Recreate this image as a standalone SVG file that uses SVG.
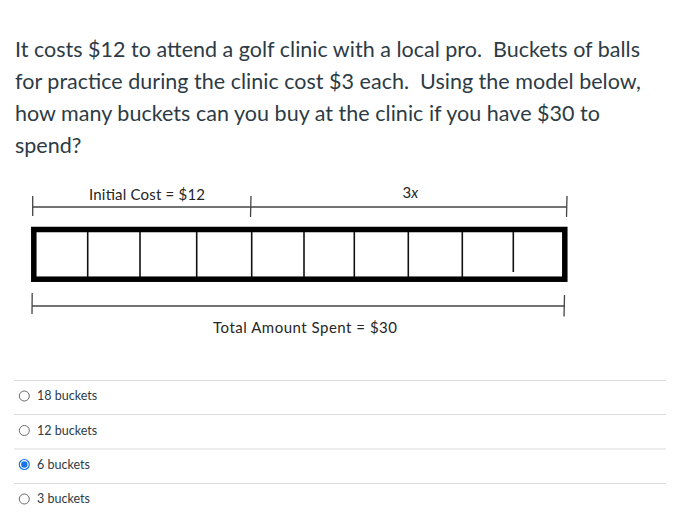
<svg xmlns="http://www.w3.org/2000/svg" width="674" height="527" viewBox="0 0 674 527">
<style>
.q{font-family:Lato,"Open Sans","Liberation Sans",sans-serif;font-size:21.5px;fill:#2d3b45;white-space:pre}
.lbl{font-family:Lato,"Open Sans","Liberation Sans",sans-serif;font-size:15px;fill:#262626}
.opt{font-family:Lato,"Liberation Sans",sans-serif;font-size:12.5px;fill:#2d3b45}
.dim{stroke:#444;stroke-width:1.3;fill:none}
.div{stroke:#111;stroke-width:1.6}
.sep{stroke:#dcdcdc;stroke-width:1}
.radio{fill:#fff;stroke:#6b6b6b;stroke-width:1}
</style>
<rect width="674" height="527" fill="#fff"/>
<g id="question">
<text class="q" x="15" y="57" xml:space="preserve" textLength="625">It costs $12 to attend a golf clinic with a local pro.  Buckets of balls</text>
<text class="q" x="15" y="89" xml:space="preserve" textLength="626">for practice during the clinic cost $3 each.  Using the model below,</text>
<text class="q" x="15" y="121" xml:space="preserve" textLength="585">how many buckets can you buy at the clinic if you have $30 to</text>
<text class="q" x="15" y="153">spend?</text>
</g>
<g id="tape">
<rect x="33.8" y="229.5" width="531" height="49.7" fill="#fff" stroke="#000" stroke-width="5.5"/>
<line class="div" x1="87.7" y1="232" x2="87.7" y2="277"/>
<line class="div" x1="140" y1="232" x2="140" y2="277"/>
<line class="div" x1="196.7" y1="232" x2="196.7" y2="277"/>
<line class="div" x1="251.7" y1="232" x2="251.7" y2="277"/>
<line class="div" x1="304" y1="232" x2="304" y2="277"/>
<line class="div" x1="354.3" y1="232" x2="354.3" y2="277"/>
<line class="div" x1="408.3" y1="232" x2="408.3" y2="277"/>
<line class="div" x1="462.3" y1="232" x2="462.3" y2="277"/>
<line class="div" x1="513.3" y1="232" x2="513.3" y2="272"/>
</g>
<g id="connectors">
<line class="dim" x1="32.5" y1="207" x2="567" y2="207"/>
<line class="dim" x1="32.7" y1="196" x2="32.7" y2="216"/>
<line class="dim" x1="251" y1="196" x2="250.5" y2="217"/>
<line class="dim" x1="567" y1="196" x2="566.5" y2="217"/>
<line class="dim" x1="32" y1="306" x2="565" y2="306"/>
<line class="dim" x1="32.2" y1="293" x2="32" y2="314"/>
<line class="dim" x1="564.5" y1="295" x2="564" y2="316.5"/>
</g>
<g id="label-initial"><text class="lbl" x="89" y="200" textLength="116">Initial Cost = $12</text></g>
<g id="label-3x"><text class="lbl" x="402.5" y="198">3<tspan font-style="italic">x</tspan></text></g>
<g id="label-total"><text class="lbl" x="213" y="333" textLength="184">Total Amount Spent = $30</text></g>
<g id="options">
<line class="sep" x1="14" y1="380.5" x2="666" y2="380.5"/>
<line class="sep" x1="14" y1="414.5" x2="666" y2="414.5"/>
<line class="sep" x1="14" y1="449" x2="666" y2="449"/>
<line class="sep" x1="14" y1="483.5" x2="666" y2="483.5"/>
<circle class="radio" cx="24.3" cy="396" r="5"/>
<text class="opt" x="37" y="400">18 buckets</text>
<circle class="radio" cx="24.3" cy="430.5" r="5"/>
<text class="opt" x="37" y="434.5">12 buckets</text>
<circle cx="24.3" cy="464.5" r="5" fill="#fff" stroke="#1a73e8" stroke-width="1.2"/>
<circle cx="24.3" cy="464.5" r="3.2" fill="#1a73e8"/>
<text class="opt" x="37" y="468.5">6 buckets</text>
<circle class="radio" cx="24.3" cy="499" r="5"/>
<text class="opt" x="37" y="503">3 buckets</text>
</g>
</svg>
